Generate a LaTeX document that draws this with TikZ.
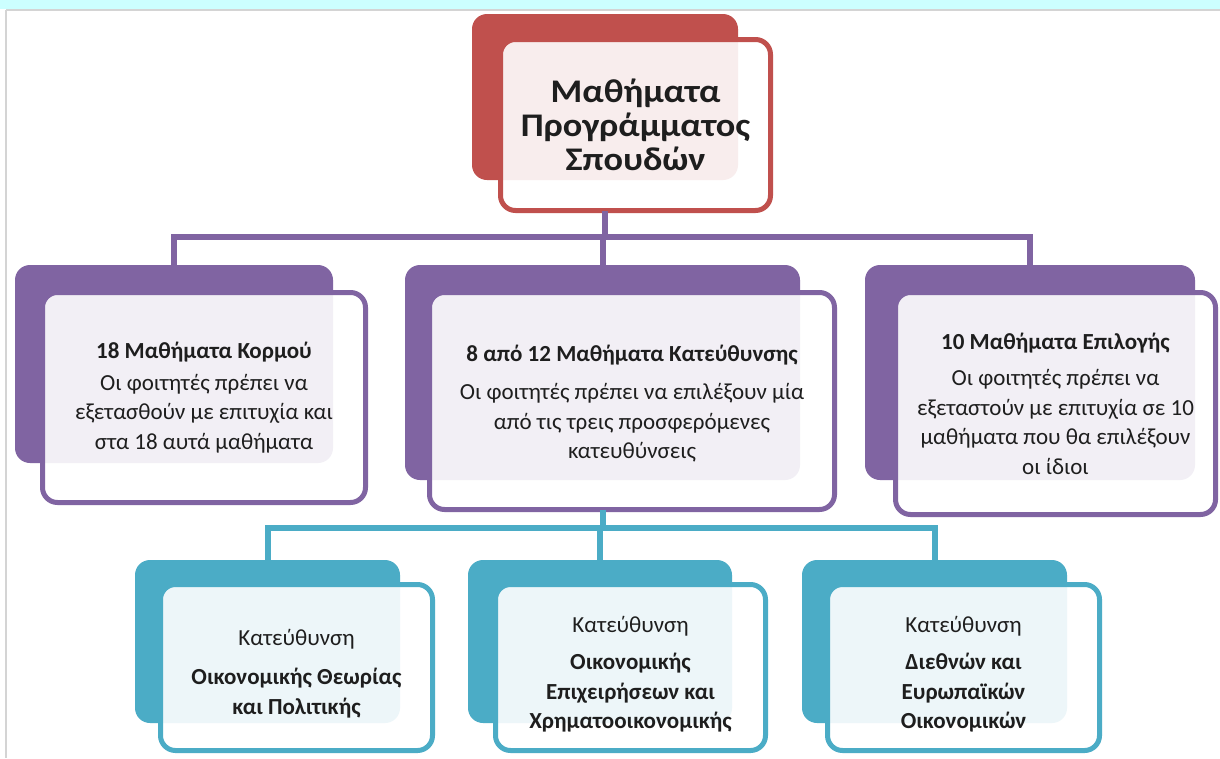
\documentclass[tikz,border=0pt]{standalone}
\usepackage{fontspec}
\usepackage{graphicx}
\setmainfont{Carlito}
\definecolor{myred}{RGB}{192,80,77}
\definecolor{mypurple}{RGB}{128,100,162}
\definecolor{myteal}{RGB}{75,172,198}
\definecolor{stripcyan}{RGB}{204,255,255}
\definecolor{rulegray}{RGB}{212,212,212}
\definecolor{txt}{RGB}{30,30,30}
\tikzset{
  backbox/.style={rounded corners=15pt, inner sep=0pt, outer sep=0pt},
  frontbox/.style={rounded corners=15pt, line width=5pt, fill=white, fill opacity=0.9,
     text opacity=1, draw opacity=1, inner sep=0pt, outer sep=0pt, align=center, text=txt},
  conn/.style={line width=6pt, line join=miter},
  ttl/.style={font=\fontsize{33}{34}\selectfont\bfseries},
  body/.style={font=\fontsize{23}{29.5}\selectfont},
}
\begin{document}
\begin{tikzpicture}[x=1pt,y=-1pt]
\useasboundingbox (0,0) rectangle (1220,758);
\fill[white] (0,0) rectangle (1220,758);
% top strip
\fill[stripcyan] (0,0) rectangle (1220,8.5);
\draw[rulegray, line width=2pt] (6,9.5) -- (1220,9.5);
\draw[rulegray, line width=2pt] (6,9.5) -- (6,758);

% back boxes
\node[backbox, fill=myred, minimum width=266pt, minimum height=166pt] (tb) at (605,97) {};
\node[backbox, fill=mypurple, minimum width=318pt, minimum height=198pt] (pl) at (174,364) {};
\node[backbox, fill=mypurple, minimum width=395pt, minimum height=215pt] (pm) at (602.5,372.5) {};
\node[backbox, fill=mypurple, minimum width=330pt, minimum height=215pt] (pr) at (1030,372.5) {};
\node[backbox, fill=myteal, minimum width=265pt, minimum height=163pt] (tl) at (267.5,641.5) {};
\node[backbox, fill=myteal, minimum width=264pt, minimum height=163pt] (tm) at (600,641.5) {};
\node[backbox, fill=myteal, minimum width=265pt, minimum height=163pt] (tr) at (934.5,641.5) {};

% connector bus points
\coordinate (pbus) at (605,237);
\coordinate (tbus) at (600,528);

% front boxes
\node[frontbox, draw=myred, ttl, minimum width=270pt, minimum height=171pt] (tf) at (635.5,125)
  {\scalebox{1.1}[1]{\begin{tabular}{@{}c@{}}\rule{0pt}{34pt}Μαθήματα\\Προγράμματος\\Σπουδών\end{tabular}}};
\node[frontbox, draw=mypurple, body, minimum width=323pt, minimum height=210pt] (plf) at (204,397.5)
  {\textbf{18 Μαθήματα Κορμού}\\[2pt]Οι φοιτητές πρέπει να\\εξετασθούν με επιτυχία και\\στα 18 αυτά μαθήματα};
\node[frontbox, draw=mypurple, body, minimum width=405pt, minimum height=217pt] (pmf) at (632,401)
  {\rule{0pt}{22pt}\textbf{8 από 12 Μαθήματα Κατεύθυνσης}\\[9pt]Οι φοιτητές πρέπει να επιλέξουν μία\\από τις τρεις προσφερόμενες\\κατευθύνσεις};
\node[frontbox, draw=mypurple, body, minimum width=320pt, minimum height=222pt] (prf) at (1055.5,403.5)
  {\textbf{10 Μαθήματα Επιλογής}\\[7pt]Οι φοιτητές πρέπει να\\εξεταστούν με επιτυχία σε 10\\μαθήματα που θα επιλέξουν\\οι ίδιοι};
\node[frontbox, draw=myteal, body, minimum width=272pt, minimum height=166pt] (tlf) at (296.5,667.5)
  {\rule{0pt}{28pt}Κατεύθυνση\\[10pt]\textbf{Οικονομικής Θεωρίας}\\\textbf{και Πολιτικής}};
\node[frontbox, draw=myteal, body, minimum width=270pt, minimum height=166pt] (tmf) at (630.5,667.5)
  {\rule{0pt}{30pt}Κατεύθυνση\\[8pt]\textbf{Οικονομικής}\\\textbf{Επιχειρήσεων και}\\\textbf{Χρηματοοικονομικής}};
\node[frontbox, draw=myteal, body, minimum width=272pt, minimum height=166pt] (trf) at (963.5,667.5)
  {\rule{0pt}{30pt}Κατεύθυνση\\[8pt]\textbf{Διεθνών και}\\\textbf{Ευρωπαϊκών}\\\textbf{Οικονομικών}};

% connectors
\draw[conn, mypurple] (tb.center |- tf.south) -- (tb.center |- pbus);
\draw[conn, mypurple] (pl.north) -- (pl.north |- pbus) -- (pr.north |- pbus) -- (pr.north);
\draw[conn, mypurple] (pm.north) -- (pm.north |- pbus);
\draw[conn, myteal] (pm.center |- pmf.south) -- (pm.center |- tbus);
\draw[conn, myteal] (tl.north) -- (tl.north |- tbus) -- (tr.north |- tbus) -- (tr.north);
\draw[conn, myteal] (tm.north) -- (tm.north |- tbus);
\end{tikzpicture}
\end{document}
